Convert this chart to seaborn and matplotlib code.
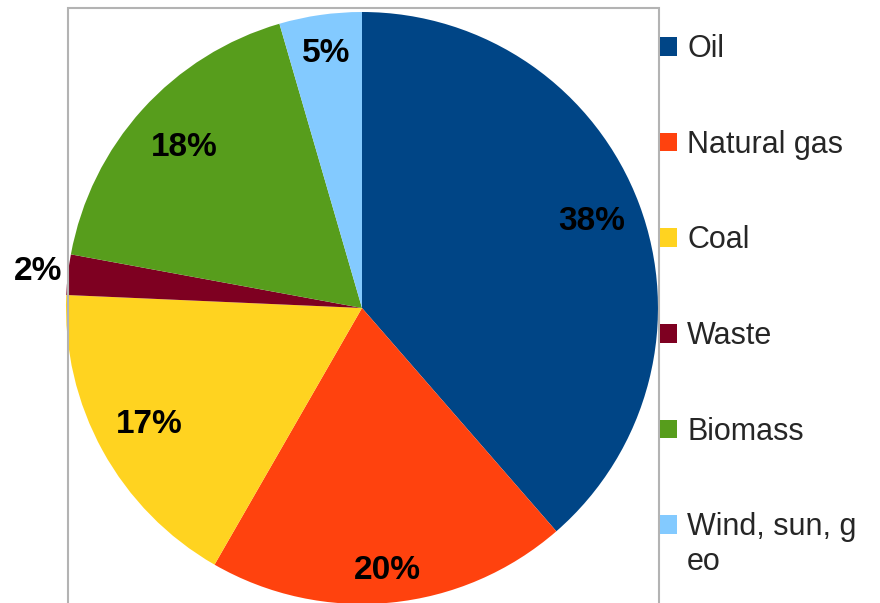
import matplotlib
matplotlib.use("Agg")
import matplotlib.pyplot as plt
import matplotlib.patches as mpatches
from matplotlib.offsetbox import TextArea
import numpy as np
import seaborn as sns

# data
sources = ["Oil", "Natural gas", "Coal", "Waste", "Biomass", "Wind, sun, g\neo"]
shares = [38.6, 19.7, 17.4, 2.2, 17.6, 4.5]
pct_labels = ["38%", "20%", "17%", "2%", "18%", "5%"]
colors = ["#004586", "#ff420e", "#ffd320", "#7e0021", "#579d1c", "#83caff"]

# radial placement of the percentage labels (fraction of radius)
label_dist = [0.83, 0.89, 0.82, 1.1, 0.81, 0.87]

sns.set_theme(style="white")
plt.rcParams["font.family"] = ["Liberation Sans", "DejaVu Sans"]

fig = plt.figure(figsize=(8.8, 6.03), dpi=100)

# plot-area frame (runs off the bottom of the image)
frame = mpatches.Rectangle((68 / 880, -0.02), (659 - 68) / 880, 0.02 + 1 - 8 / 603,
                           transform=fig.transFigure, fill=False,
                           edgecolor="#b3b3b3", linewidth=1.5)
fig.patches.append(frame)

ax = fig.add_axes([(362 - 296) / 880, (603 - 308 - 296) / 603, 592 / 880, 592 / 603])
wedges, _ = ax.pie(shares, colors=colors, startangle=90, counterclock=False,
                   wedgeprops=dict(linewidth=0))
ax.set_xlim(-1, 1)
ax.set_ylim(-1, 1)
ax.set_aspect("equal")
ax.axis("off")

for w, lab, d in zip(wedges, pct_labels, label_dist):
    mid = np.deg2rad((w.theta1 + w.theta2) / 2)
    ax.text(d * np.cos(mid), d * np.sin(mid), lab, ha="center", va="center",
            fontsize=24, fontweight="bold", color="black")

handles = [mpatches.Patch(facecolor=c, edgecolor="none") for c in colors]
leg = fig.legend(handles, sources, loc="upper left", bbox_to_anchor=(660 / 880, 1 - 34 / 603),
                 frameon=False, fontsize=22, handlelength=0.56, handleheight=0.56,
                 handletextpad=0.33, labelspacing=2.15, borderpad=0, borderaxespad=0)
for ta in leg.findobj(lambda a: isinstance(a, TextArea)):
    ta._multilinebaseline = False

# lift the last swatch up to the first line of its wrapped label
fig.canvas.draw()
renderer = fig.canvas.get_renderer()
texts = leg.get_texts()
one_line = texts[0].get_window_extent(renderer).height
wrapped = texts[-1].get_window_extent(renderer).height
shift_pt = (wrapped - one_line) * 72 / fig.dpi
p = leg.get_patches()[-1]
p.set_y(p.get_y() + shift_pt)

fig.savefig("out.png", dpi=100)
